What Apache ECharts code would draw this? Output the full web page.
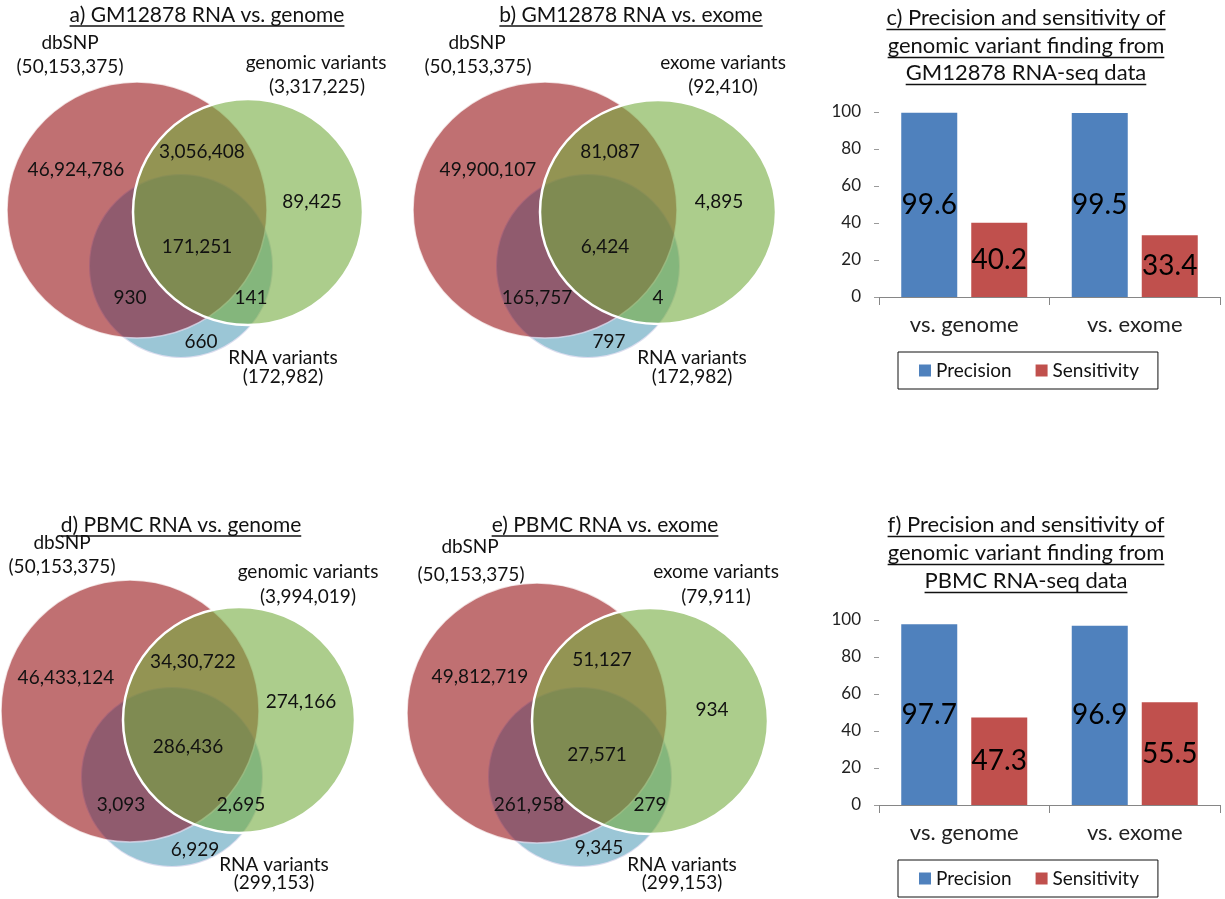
<!DOCTYPE html>
<html>
<head>
<meta charset="UTF-8">
<title>RNA-seq variant finding</title>
<script type="text/javascript" src="https://cdn.jsdelivr.net/npm/echarts@6/dist/echarts.min.js"></script>
<style>html,body{margin:0;padding:0;background:#fff;}</style>
</head>
<body>
<div id="main" style="width:1225px;height:899px;"></div>

<script type="text/javascript">
// panel titles
var vennTitles = ['a) GM12878 RNA vs. genome', 'b) GM12878 RNA vs. exome', 'd) PBMC RNA vs. genome', 'e) PBMC RNA vs. exome'];
var barTitleGM = ['c) Precision and sensitivity of', 'genomic variant finding from', 'GM12878 RNA-seq data'];
var barTitlePBMC = ['f) Precision and sensitivity of', 'genomic variant finding from', 'PBMC RNA-seq data'];

// set names and totals, per venn panel
var setNamesA = ['dbSNP', 'genomic variants', 'RNA variants'];
var setNamesB = ['dbSNP', 'exome variants', 'RNA variants'];
var setTotalsA = ['(50,153,375)', '(3,317,225)', '(172,982)'];
var setTotalsB = ['(50,153,375)', '(92,410)', '(172,982)'];
var setTotalsD = ['(50,153,375)', '(3,994,019)', '(299,153)'];
var setTotalsE = ['(50,153,375)', '(79,911)', '(299,153)'];

// region counts as printed: dbSNP only, dbSNP+var, var only, all three, dbSNP+RNA, var+RNA, RNA only
var regionsA = ['46,924,786', '3,056,408', '89,425', '171,251', '930', '141', '660'];
var regionsB = ['49,900,107', '81,087', '4,895', '6,424', '165,757', '4', '797'];
var regionsD = ['46,433,124', '34,30,722', '274,166', '286,436', '3,093', '2,695', '6,929'];
var regionsE = ['49,812,719', '51,127', '934', '27,571', '261,958', '279', '9,345'];

// bar charts
var barCategories = ['vs. genome', 'vs. exome'];
var precisionGM = [99.6, 99.5];
var sensitivityGM = [40.2, 33.4];
var precisionPBMC = [97.7, 96.9];
var sensitivityPBMC = [47.3, 55.5];

// ---- layout (page units on a hidden 1225x899 value grid) ----
// circles: [cx, cy, rx, ry] for dbSNP, variants, RNA
var circleLayout = [
  [[137, 210, 130, 128], [248, 212, 115, 113], [181, 266, 92, 92]],
  [[545, 210, 132, 128], [658, 212, 118, 112], [588, 266, 92, 92]],
  [[130, 711, 129, 131], [239, 720, 116, 113], [172, 777, 91, 90]],
  [[537, 713, 130, 130], [650, 721, 118, 113], [580, 777, 92, 90]]
];
var regionLayout = [
  [[76, 170], [202, 152], [312, 202], [197, 247], [130, 298], [251, 298], [201, 342]],
  [[488, 170], [610, 152], [719, 202], [605, 247], [537, 298], [658, 298], [609, 342]],
  [[66, 678], [193, 662], [301, 702], [188, 747], [121, 805], [241, 805], [195, 850]],
  [[480, 677], [602, 660], [712, 710], [597, 755], [529, 805], [650, 805], [599, 848]]
];
// name line, total line for each set
var setLayout = [
  [[[70, 43], [70, 67]], [[316, 63], [317, 87]], [[283, 358], [283, 377]]],
  [[[477, 43], [478, 67]], [[723, 63], [723, 87]], [[692, 358], [692, 377]]],
  [[[62, 543], [62, 567]], [[308, 572], [308, 597]], [[274, 865], [274, 883]]],
  [[[470, 547], [471, 575]], [[716, 572], [716, 597]], [[682, 865], [682, 883]]]
];
var vennTitlePos = [[207, 15], [631, 15], [181, 525], [605, 525]];

var FONT = 'Lato, "Liberation Sans", sans-serif';
var circleStyles = [
  // dbSNP, translucent over RNA
  {fill: 'rgba(150,17,20,0.6)', stroke: 'rgba(255,255,255,0.75)', lineWidth: 1.5},
  // variants, top, translucent
  {fill: 'rgba(117,172,63,0.6)', stroke: '#ffffff', lineWidth: 2.5},
  // RNA, bottom
  {fill: '#ace2e0', stroke: 'rgba(255,255,255,0.9)', lineWidth: 2},
  // RNA again, faint violet tint over dbSNP
  {fill: 'rgba(60,40,160,0.15)', stroke: 'none', lineWidth: 0}
];

var vennSets = [
  {names: setNamesA, totals: setTotalsA, regions: regionsA},
  {names: setNamesB, totals: setTotalsB, regions: regionsB},
  {names: setNamesA, totals: setTotalsD, regions: regionsD},
  {names: setNamesB, totals: setTotalsE, regions: regionsE}
];

// circle data, drawn in order: RNA, dbSNP, RNA tint, variants
var circleData = [];
[2, 0, 3, 1].forEach(function (k) {
  circleLayout.forEach(function (panel) {
    var c = panel[k === 3 ? 2 : k];
    circleData.push([c[0], c[1], c[2], c[3], k]);
  });
});

// text data
var textData = [];
vennSets.forEach(function (v, p) {
  v.regions.forEach(function (txt, i) {
    textData.push([regionLayout[p][i][0], regionLayout[p][i][1], txt]);
  });
  v.names.forEach(function (nm, i) {
    textData.push([setLayout[p][i][0][0], setLayout[p][i][0][1], nm]);
    textData.push([setLayout[p][i][1][0], setLayout[p][i][1][1], v.totals[i]]);
  });
});

// underlined titles
var measureCtx = document.createElement('canvas').getContext('2d');
function textWidth(txt, size) {
  measureCtx.font = size + 'px ' + FONT;
  return measureCtx.measureText(txt).width;
}
var graphics = [];
function addTitle(txt, x, y, size) {
  graphics.push({type: 'text', x: x, y: y, silent: true,
    style: {text: txt, fill: '#111', font: size + 'px ' + FONT, align: 'center', verticalAlign: 'middle'}});
  var w = textWidth(txt, size);
  graphics.push({type: 'line', silent: true,
    shape: {x1: x - w / 2, y1: y + size / 2 + 0.5, x2: x + w / 2, y2: y + size / 2 + 0.5},
    style: {stroke: '#111', lineWidth: 1.3}});
}
vennTitles.forEach(function (t, i) { addTitle(t, vennTitlePos[i][0], vennTitlePos[i][1], 21); });
var gmY = [18, 46, 73], pbY = [525, 553, 581];
barTitleGM.forEach(function (t, i) { addTitle(t, 1026, gmY[i], 22); });
barTitlePBMC.forEach(function (t, i) { addTitle(t, 1026, pbY[i], 22); });

function barYAxis(idx) {
  return {type: 'value', gridIndex: idx, min: 0, max: 100, interval: 20,
    axisLine: {show: false},
    axisTick: {show: true, length: 5, lineStyle: {color: '#9a9a9a'}},
    axisLabel: {fontFamily: FONT, fontSize: 17, color: '#222', margin: 18},
    splitLine: {show: false}};
}
function barXAxis(idx) {
  return {type: 'category', gridIndex: idx, data: barCategories,
    axisLine: {lineStyle: {color: '#868686', width: 1.2}},
    axisTick: {show: true, length: 8, lineStyle: {color: '#868686'}},
    axisLabel: {fontFamily: FONT, fontSize: 22, color: '#222', margin: 17}};
}
var barLabel = {show: true, position: 'inside', fontFamily: FONT, fontSize: 28, color: '#000'};
function barLegend(top) {
  return {left: 898, top: top, orient: 'horizontal', data: ['Precision', 'Sensitivity'],
    icon: 'rect', itemWidth: 12, itemHeight: 12, itemGap: 24,
    borderColor: '#111', borderWidth: 1, borderRadius: 0, padding: [9, 19, 9, 21],
    textStyle: {fontFamily: FONT, fontSize: 19, color: '#111'}, selectedMode: false};
}

var mychart = echarts.init(document.getElementById('main'));
var option = {
  backgroundColor: '#ffffff',
  animation: false,
  graphic: graphics,
  legend: [barLegend(352), barLegend(860)],
  grid: [
    {left: 0, top: 0, width: 1225, height: 899},
    {left: 879, top: 112, width: 341, height: 185},
    {left: 879, top: 620, width: 341, height: 185}
  ],
  xAxis: [
    {type: 'value', gridIndex: 0, min: 0, max: 1225, show: false},
    barXAxis(1), barXAxis(2)
  ],
  yAxis: [
    {type: 'value', gridIndex: 0, min: 0, max: 899, inverse: true, show: false},
    barYAxis(1), barYAxis(2)
  ],
  series: [
    {
      type: 'custom', xAxisIndex: 0, yAxisIndex: 0, silent: true,
      data: circleData,
      encode: {x: 0, y: 1},
      renderItem: function (params, api) {
        var c = api.coord([api.value(0), api.value(1)]);
        var s = api.size([api.value(2), api.value(3)]);
        return {type: 'ellipse', shape: {cx: c[0], cy: c[1], rx: s[0], ry: s[1]},
          style: circleStyles[api.value(4)]};
      }
    },
    {
      type: 'custom', xAxisIndex: 0, yAxisIndex: 0, silent: true,
      data: textData,
      encode: {x: 0, y: 1},
      renderItem: function (params, api) {
        var c = api.coord([api.value(0), api.value(1)]);
        return {type: 'text', x: c[0], y: c[1],
          style: {text: textData[params.dataIndex][2], fill: '#111', font: '19px ' + FONT,
            align: 'center', verticalAlign: 'middle'}};
      }
    },
    {name: 'Precision', type: 'bar', xAxisIndex: 1, yAxisIndex: 1, data: precisionGM,
      barWidth: 56, barGap: '25%', itemStyle: {color: '#4F81BD'}, label: barLabel},
    {name: 'Sensitivity', type: 'bar', xAxisIndex: 1, yAxisIndex: 1, data: sensitivityGM,
      barWidth: 56, barGap: '25%', itemStyle: {color: '#C0504D'}, label: barLabel},
    {name: 'Precision', type: 'bar', xAxisIndex: 2, yAxisIndex: 2, data: precisionPBMC,
      barWidth: 56, barGap: '25%', itemStyle: {color: '#4F81BD'}, label: barLabel},
    {name: 'Sensitivity', type: 'bar', xAxisIndex: 2, yAxisIndex: 2, data: sensitivityPBMC,
      barWidth: 56, barGap: '25%', itemStyle: {color: '#C0504D'}, label: barLabel}
  ]
};
mychart.setOption(option);
</script>
</body>
</html>
